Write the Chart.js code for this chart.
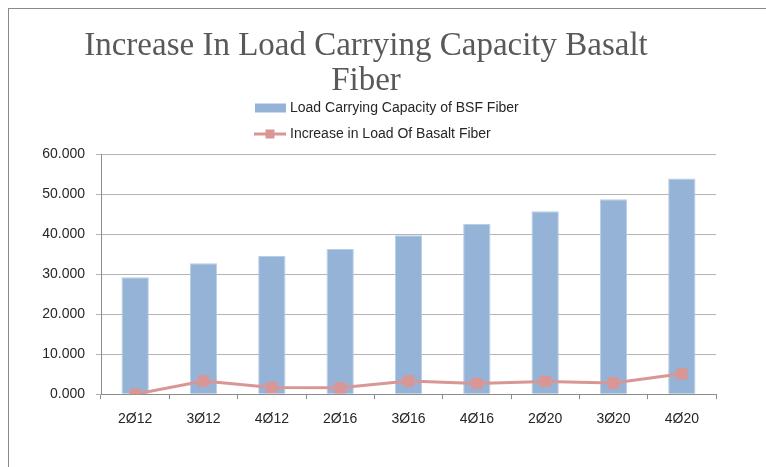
<!DOCTYPE html>
<html>
<head>
<meta charset="utf-8">
<script src="https://cdn.jsdelivr.net/npm/chart.js@4/dist/chart.umd.min.js"></script>
<style>
    body { margin: 0; background: #fff; }
    #wrap { position: relative; width: 766px; height: 467px; overflow: hidden; }
    #frame { position: absolute; left: 8px; top: 8px; width: 820px; height: 520px; border: 1px solid #8a8a8a; pointer-events: none; }
</style>
</head>
<body>
<div id="wrap">
    <canvas id="chart"></canvas>
    <div id="frame"></div>
</div>
<script>
const categories = ["2Ø12", "3Ø12", "4Ø12", "2Ø16", "3Ø16", "4Ø16", "2Ø20", "3Ø20", "4Ø20"];
const capacityValues = [29.2, 32.7, 34.5, 36.3, 39.7, 42.5, 45.7, 48.7, 53.9];
const increaseValues = [0, 3.3, 1.7, 1.6, 3.3, 2.7, 3.2, 2.8, 5.1];
const titleLines = ["Increase In Load Carrying Capacity Basalt", "Fiber"];
const capacityLabel = "Load Carrying Capacity of BSF Fiber";
const increaseLabel = "Increase in Load Of Basalt Fiber";

Chart.defaults.font.family = '"Liberation Sans", Arial, sans-serif';
Chart.defaults.font.size = 14;
Chart.defaults.color = "#262626";

// legend stacked in one left-aligned column, like the original
const columnLegend = {
    id: "columnLegend",
    afterDraw(chart) {
        const ctx = chart.ctx;
        ctx.save();
        ctx.font = '14px "Liberation Sans", Arial, sans-serif';
        ctx.textBaseline = "middle";
        chart.data.datasets.forEach(function(ds, i) {
            const x = 255, y = 108 + i * 26;
            if (ds.type === "bar") {
                ctx.fillStyle = ds.backgroundColor;
                ctx.fillRect(x, y - 4.5, 31, 9);
            } else {
                ctx.strokeStyle = ds.borderColor;
                ctx.lineWidth = 3;
                ctx.beginPath();
                ctx.moveTo(x - 1, y);
                ctx.lineTo(x + 31, y);
                ctx.stroke();
                ctx.fillStyle = ds.pointBackgroundColor;
                ctx.fillRect(x + 10.5, y - 4.5, 9, 9);
            }
            ctx.fillStyle = "#262626";
            ctx.fillText(ds.label, x + 35, y);
        });
        ctx.restore();
    }
};

new Chart(document.getElementById("chart").getContext("2d"), {
    data: {
        labels: categories,
        datasets: [{
            type: "bar",
            label: capacityLabel,
            data: capacityValues,
            backgroundColor: "#95b3d7",
            borderColor: "#b9cde5",
            borderWidth: 1,
            barPercentage: 0.4,
            categoryPercentage: 1,
            order: 1
        }, {
            type: "line",
            label: increaseLabel,
            data: increaseValues,
            borderColor: "#d99694",
            borderWidth: 3,
            pointStyle: "rect",
            pointRadius: 8,
            pointBorderWidth: 0,
            pointBackgroundColor: "#d99694",
            tension: 0,
            order: 0
        }]
    },
    options: {
        responsive: true,
        maintainAspectRatio: false,
        animation: false,
        layout: { padding: { left: 16, right: 50, top: 0, bottom: 27 } },
        plugins: {
            legend: { display: false },
            tooltip: { enabled: false },
            title: {
                display: true,
                text: titleLines,
                color: "#595959",
                font: { family: '"Liberation Serif", serif', size: 33, weight: "normal", lineHeight: 35 / 33 },
                padding: { top: 28.5, bottom: 55.5 }
            }
        },
        scales: {
            x: {
                offset: true,
                grid: { offset: true, drawOnChartArea: false, tickLength: 5, color: "#8c8c8c" },
                border: { color: "#8c8c8c" },
                ticks: { padding: 12, color: "#262626" }
            },
            y: {
                min: 0,
                max: 60,
                afterFit: function(scale) { scale.width = 85; },
                grid: { color: "#b4b4b4", tickLength: 5 },
                border: { color: "#8c8c8c" },
                ticks: {
                    stepSize: 10,
                    padding: 11,
                    color: "#262626",
                    callback: function(value) { return value.toFixed(3); }
                }
            }
        }
    },
    plugins: [columnLegend]
});
</script>
</body>
</html>
